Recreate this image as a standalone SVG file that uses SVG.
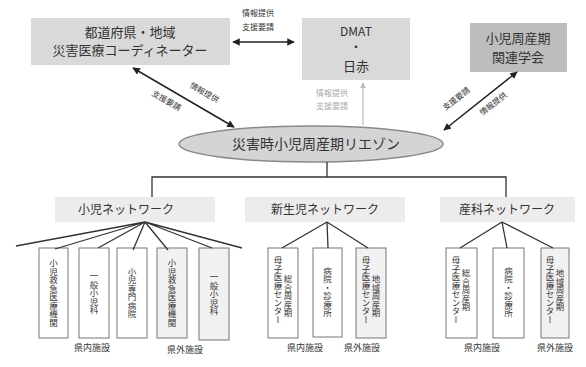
<svg xmlns="http://www.w3.org/2000/svg" width="586" height="367" viewBox="0 0 586 367">
<style>
text{font-family:"Noto Sans CJK JP","Noto Sans",sans-serif;fill:#333;}
.h{font-size:13px;text-anchor:middle;}
.n{font-size:12px;text-anchor:middle;}
.s{font-size:8px;text-anchor:middle;}
.v{font-size:8.5px;text-anchor:middle;writing-mode:vertical-rl;}
.lb{font-size:9px;text-anchor:middle;}
.fac{fill:#fff;stroke:#777;stroke-width:1;}
.fac2{fill:#f1f1f1;stroke:#777;stroke-width:1;}
.ln{stroke:#333;stroke-width:1.3;fill:none;}
.ar{stroke:#222;stroke-width:1.5;fill:none;marker-end:url(#ah);marker-start:url(#ah);}
</style>
<defs>
<marker id="ah" viewBox="0 0 10 10" refX="9" refY="5" markerWidth="5" markerHeight="5" orient="auto-start-reverse"><path d="M0,0L10,5L0,10z" fill="#222"/></marker>
<marker id="ahg" viewBox="0 0 10 10" refX="9" refY="5" markerWidth="5" markerHeight="5" orient="auto"><path d="M0,0L10,5L0,10z" fill="#bbb"/></marker>
</defs>
<rect width="586" height="367" fill="#fff"/>

<g id="coordinator">
<rect x="31" y="18" width="199" height="47" fill="#d9d9d9"/>
<text class="h" x="130" y="37">都道府県・地域</text>
<text class="h" x="130" y="55">災害医療コーディネーター</text>
</g>
<g id="dmat">
<rect x="302" y="18" width="108" height="62" fill="#d9d9d9"/>
<text class="n" x="356" y="36">DMAT</text>
<text class="n" x="356" y="52">・</text>
<text class="h" x="356" y="71">日赤</text>
</g>
<g id="society">
<rect x="470" y="23" width="97" height="49" fill="#bdbdbd"/>
<text class="h" x="518" y="43">小児周産期</text>
<text class="h" x="518" y="62">関連学会</text>
</g>
<g id="liaison">
<ellipse cx="311" cy="144" rx="132" ry="18" fill="#d4d4d4" stroke="#8a8a8a" stroke-width="1.5"/>
<text class="h" x="316" y="149" style="font-size:14px">災害時小児周産期リエゾン</text>
</g>
<g id="net-shoni">
<rect x="55" y="197" width="160" height="25" fill="#ececec"/>
<text class="n" x="126" y="214">小児ネットワーク</text>
</g>
<g id="net-shinseiji">
<rect x="245" y="197" width="160" height="25" fill="#ececec"/>
<text class="n" x="325" y="214">新生児ネットワーク</text>
</g>
<g id="net-sanka">
<rect x="440" y="197" width="135" height="25" fill="#ececec"/>
<text class="n" x="507" y="214">産科ネットワーク</text>
</g>

<g id="facilities-shoni">
<rect class="fac" x="39" y="248" width="29" height="90"/>
<text class="v" x="53.5" y="293">小児救急医療機関</text>
<rect class="fac" x="79" y="248" width="30" height="90"/>
<text class="v" x="94" y="293">一般小児科</text>
<rect class="fac" x="117" y="248" width="30" height="90"/>
<text class="v" x="132" y="293">小児専門病院</text>
<rect class="fac2" x="157" y="248" width="30" height="90"/>
<text class="v" x="172" y="293">小児救急医療機関</text>
<rect class="fac2" x="199" y="248" width="30" height="92"/>
<text class="v" x="214" y="294">一般小児科</text>
<text class="lb" x="92" y="351">県内施設</text>
<text class="lb" x="185" y="353">県外施設</text>
</g>
<g id="facilities-shinseiji">
<rect class="fac" x="268" y="248" width="30" height="90"/>
<text class="v" x="288" y="296">総合周産期</text>
<text class="v" x="278" y="290">母子医療センター</text>
<rect class="fac" x="313" y="248" width="29" height="89"/>
<text class="v" x="327.5" y="292">病院・診療所</text>
<rect class="fac2" x="356" y="248" width="30" height="90"/>
<text class="v" x="376" y="296">地域周産期</text>
<text class="v" x="366" y="290">母子医療センター</text>
<text class="lb" x="305" y="351">県内施設</text>
<text class="lb" x="362" y="351">県外施設</text>
</g>
<g id="facilities-sanka">
<rect class="fac" x="446" y="248" width="31" height="90"/>
<text class="v" x="466" y="290">総合周産期</text>
<text class="v" x="456" y="290">母子医療センター</text>
<rect class="fac" x="493" y="248" width="31" height="90"/>
<text class="v" x="508.5" y="292">病院・診療所</text>
<rect class="fac2" x="541" y="248" width="28" height="90"/>
<text class="v" x="560" y="290">地域周産期</text>
<text class="v" x="550" y="290">母子医療センター</text>
<text class="lb" x="482" y="351">県内施設</text>
<text class="lb" x="555" y="351">県外施設</text>
</g>

<g id="connectors">
<line class="ar" x1="233" y1="42" x2="294" y2="42"/>
<text class="s" x="258" y="16">情報提供</text>
<text class="s" x="258" y="30">支援要請</text>
<line class="ar" x1="133" y1="68" x2="234" y2="127"/>
<text class="s" transform="translate(165,103) rotate(30.5)">支援要請</text>
<text class="s" transform="translate(203,95) rotate(30.5)">情報提供</text>
<line class="ar" x1="444" y1="130" x2="517" y2="72"/>
<text class="s" transform="translate(458,101) rotate(-38)">支援要請</text>
<text class="s" transform="translate(495,106) rotate(-38)">情報提供</text>
<line x1="363" y1="125" x2="363" y2="83" stroke="#bbb" stroke-width="1.2" marker-end="url(#ahg)"/>
<text class="s" x="332" y="96" style="fill:#aaa">情報提供</text>
<text class="s" x="332" y="109" style="fill:#aaa">支援要請</text>
<path class="ln" d="M327,162V177M152,197V177H506V197"/>
<path class="ln" d="M145,222L16,246M145,222L55,249M145,222L98,248M145,222L133,250M145,222L168,250M145,222L212,248M145,222L242,248"/>
<path class="ln" d="M327,222L282,248M327,222L328,248M327,222L368,248"/>
<path class="ln" d="M502,222L460,248M502,222L507,248M502,222L553,248"/>
</g>
</svg>
